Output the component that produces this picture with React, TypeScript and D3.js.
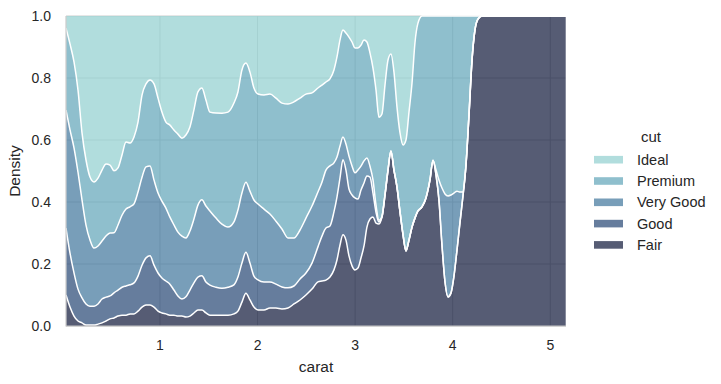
import React from "react";
import * as d3 from "d3";

// Grid of carat values (common KDE grid)
const carat = [
  0.037, 0.078, 0.119, 0.16, 0.201, 0.242, 0.283, 0.324, 0.365, 0.406, 0.447, 0.488, 0.529, 0.57, 0.611, 0.652,
  0.693, 0.734, 0.775, 0.816, 0.857, 0.898, 0.939, 0.98, 1.02, 1.061, 1.102, 1.143, 1.184, 1.225, 1.266, 1.307,
  1.348, 1.389, 1.43, 1.471, 1.512, 1.574, 1.635, 1.697, 1.758, 1.799, 1.84, 1.881, 1.922, 1.963, 2.004, 2.066,
  2.127, 2.189, 2.25, 2.312, 2.373, 2.435, 2.496, 2.558, 2.619, 2.66, 2.701, 2.742, 2.783, 2.814, 2.845, 2.875,
  2.906, 2.937, 2.968, 2.998, 3.029, 3.06, 3.091, 3.121, 3.152, 3.183, 3.214, 3.244, 3.275, 3.306, 3.337, 3.367,
  3.398, 3.429, 3.46, 3.491, 3.521, 3.552, 3.583, 3.613, 3.644, 3.685, 3.726, 3.767, 3.798, 3.829, 3.859, 3.89,
  3.921, 3.952, 3.982, 4.013, 4.044, 4.075, 4.105, 4.136, 4.167, 4.198, 4.228, 4.259, 4.3, 4.485, 4.792, 5.161,
];

// Share of each cut at every grid point (multiple="fill")
const fair = [
  0.1, 0.061, 0.032, 0.016, 0.01, 0.003, 0.003, 0.003, 0.006, 0.01, 0.016, 0.023, 0.026, 0.032, 0.035, 0.035,
  0.039, 0.039, 0.048, 0.061, 0.068, 0.068, 0.061, 0.048, 0.042, 0.039, 0.035, 0.035, 0.032, 0.032, 0.029, 0.032,
  0.042, 0.052, 0.052, 0.042, 0.035, 0.035, 0.035, 0.035, 0.039, 0.048, 0.077, 0.106, 0.084, 0.061, 0.052, 0.052,
  0.058, 0.058, 0.055, 0.058, 0.071, 0.084, 0.1, 0.119, 0.142, 0.145, 0.148, 0.158, 0.181, 0.213, 0.261, 0.294,
  0.277, 0.226, 0.194, 0.181, 0.187, 0.219, 0.258, 0.319, 0.345, 0.352, 0.332, 0.329, 0.352, 0.423, 0.503, 0.565,
  0.503, 0.448, 0.368, 0.294, 0.242, 0.277, 0.319, 0.348, 0.371, 0.384, 0.413, 0.471, 0.535, 0.487, 0.406, 0.261,
  0.142, 0.094, 0.106, 0.161, 0.245, 0.335, 0.419, 0.519, 0.681, 0.858, 0.955, 0.99, 1, 1, 1, 1,
];
const good = [
  0.216, 0.174, 0.139, 0.103, 0.081, 0.068, 0.061, 0.061, 0.065, 0.077, 0.077, 0.074, 0.081, 0.084, 0.09, 0.094,
  0.094, 0.1, 0.113, 0.135, 0.152, 0.158, 0.135, 0.123, 0.113, 0.106, 0.1, 0.081, 0.065, 0.055, 0.065, 0.084,
  0.097, 0.106, 0.11, 0.1, 0.097, 0.09, 0.087, 0.09, 0.094, 0.11, 0.126, 0.132, 0.119, 0.1, 0.097, 0.09,
  0.084, 0.077, 0.071, 0.065, 0.058, 0.068, 0.071, 0.084, 0.113, 0.145, 0.168, 0.165, 0.187, 0.203, 0.216, 0.242,
  0.226, 0.216, 0.229, 0.232, 0.223, 0.219, 0.203, 0.165, 0.135, 0.077, 0.035, 0.006, 0, 0, 0, 0,
  0, 0, 0, 0, 0, 0, 0, 0, 0, 0, 0, 0, 0, 0, 0, 0,
  0, 0, 0, 0, 0, 0, 0, 0, 0, 0, 0, 0, 0, 0, 0, 0,
];
const veryGood = [
  0.381, 0.397, 0.403, 0.377, 0.316, 0.255, 0.213, 0.187, 0.187, 0.187, 0.197, 0.203, 0.194, 0.21, 0.232, 0.248,
  0.252, 0.255, 0.271, 0.284, 0.294, 0.29, 0.274, 0.258, 0.248, 0.235, 0.216, 0.21, 0.206, 0.203, 0.19, 0.19,
  0.206, 0.232, 0.245, 0.245, 0.239, 0.223, 0.206, 0.194, 0.203, 0.216, 0.226, 0.226, 0.232, 0.245, 0.245, 0.235,
  0.219, 0.203, 0.187, 0.161, 0.155, 0.158, 0.177, 0.184, 0.177, 0.174, 0.187, 0.194, 0.158, 0.129, 0.103, 0.074,
  0.084, 0.106, 0.094, 0.081, 0.094, 0.077, 0.071, 0.058, 0.035, 0.042, 0.023, 0.006, 0, 0, 0, 0,
  0, 0, 0, 0, 0, 0, 0, 0, 0, 0, 0, 0, 0, 0.016, 0.065, 0.184,
  0.284, 0.326, 0.316, 0.268, 0.19, 0.097, 0.013, 0, 0, 0, 0, 0, 0, 0, 0, 0,
];
const premium = [
  0.265, 0.277, 0.277, 0.265, 0.216, 0.21, 0.203, 0.213, 0.219, 0.229, 0.232, 0.219, 0.2, 0.184, 0.194, 0.216,
  0.206, 0.216, 0.226, 0.265, 0.268, 0.277, 0.31, 0.306, 0.287, 0.277, 0.297, 0.306, 0.316, 0.316, 0.332, 0.335,
  0.352, 0.365, 0.361, 0.342, 0.319, 0.339, 0.358, 0.371, 0.384, 0.381, 0.397, 0.384, 0.384, 0.361, 0.355, 0.368,
  0.387, 0.397, 0.406, 0.432, 0.439, 0.426, 0.4, 0.365, 0.335, 0.313, 0.284, 0.281, 0.3, 0.323, 0.342, 0.345,
  0.358, 0.384, 0.4, 0.403, 0.394, 0.39, 0.39, 0.374, 0.365, 0.361, 0.371, 0.332, 0.332, 0.355, 0.355, 0.313,
  0.316, 0.258, 0.255, 0.29, 0.358, 0.413, 0.465, 0.565, 0.606, 0.616, 0.587, 0.529, 0.465, 0.497, 0.529, 0.555,
  0.574, 0.581, 0.577, 0.571, 0.565, 0.568, 0.568, 0.481, 0.319, 0.142, 0.045, 0.01, 0, 0, 0, 0,
];
const ideal = [
  0.039, 0.09, 0.148, 0.239, 0.377, 0.465, 0.519, 0.535, 0.523, 0.497, 0.477, 0.481, 0.5, 0.49, 0.448, 0.406,
  0.41, 0.39, 0.342, 0.255, 0.219, 0.206, 0.219, 0.265, 0.31, 0.342, 0.352, 0.368, 0.381, 0.394, 0.384, 0.358,
  0.303, 0.245, 0.232, 0.271, 0.31, 0.313, 0.313, 0.31, 0.281, 0.245, 0.174, 0.152, 0.181, 0.232, 0.252, 0.255,
  0.252, 0.265, 0.281, 0.284, 0.277, 0.265, 0.252, 0.248, 0.232, 0.223, 0.213, 0.203, 0.174, 0.132, 0.077, 0.045,
  0.055, 0.068, 0.084, 0.103, 0.103, 0.094, 0.077, 0.084, 0.119, 0.168, 0.239, 0.326, 0.316, 0.223, 0.142, 0.123,
  0.181, 0.294, 0.377, 0.416, 0.4, 0.31, 0.216, 0.087, 0.023, 0, 0, 0, 0, 0, 0, 0,
  0, 0, 0, 0, 0, 0, 0, 0, 0, 0, 0, 0, 0, 0, 0, 0,
];

const cuts = ["Ideal", "Premium", "Very Good", "Good", "Fair"];
const cutColors = ["#97d1d1", "#6aaabc", "#4b7ea2", "#33517c", "#1d2545"];
const xTicks = [1, 2, 3, 4, 5];
const yTicks = [0, 0.2, 0.4, 0.6, 0.8, 1.0];

const FONT = "'Liberation Sans', Arial, Helvetica, sans-serif";

export default function App() {
  const W = 721;
  const H = 384;
  const left = 66, right = 566, top = 16, bottom = 326;

  const x = d3.scaleLinear().domain([carat[0], carat[carat.length - 1]]).range([left, right]);
  const y = d3.scaleLinear().domain([0, 1]).range([bottom, top]);

  const seriesArrays: Record<string, number[]> = {
    Ideal: ideal,
    Premium: premium,
    "Very Good": veryGood,
    Good: good,
    Fair: fair,
  };
  const rows = carat.map((c, i) => {
    const r: any = { carat: c };
    cuts.forEach((k) => (r[k] = seriesArrays[k][i]));
    return r;
  });
  const stackKeys = ["Fair", "Good", "Very Good", "Premium", "Ideal"];
  const stacked = d3.stack<any>().keys(stackKeys).offset(d3.stackOffsetExpand)(rows);

  const area = d3
    .area<any>()
    .x((d) => x(d.data.carat))
    .y0((d) => y(d[0]))
    .y1((d) => y(d[1]))
    .curve(d3.curveMonotoneX);
  const line = d3
    .line<any>()
    .x((d) => x(d.data.carat))
    .y((d) => y(d[1]))
    .curve(d3.curveMonotoneX);

  const colorOf = (k: string) => cutColors[cuts.indexOf(k)];

  return (
    <svg
      width={W}
      height={H}
      style={{ position: "absolute", left: 0, top: 0, background: "#fff" }}
      fontFamily={FONT}
    >
      <rect x={0} y={0} width={W} height={H} fill="#fff" />
      {/* grid */}
      {yTicks.map((t) => (
        <line key={"gy" + t} x1={left} x2={right} y1={y(t)} y2={y(t)} stroke="#cccccc" strokeWidth={1} />
      ))}
      {xTicks.map((t) => (
        <line key={"gx" + t} x1={x(t)} x2={x(t)} y1={top} y2={bottom} stroke="#cccccc" strokeWidth={1} />
      ))}
      {/* areas */}
      {stacked.map((s) => (
        <path key={"a" + s.key} d={area(s) || ""} fill={colorOf(s.key)} fillOpacity={0.75} stroke="none" />
      ))}
      {/* white edges */}
      {stacked.slice(0, 4).map((s) => (
        <path key={"l" + s.key} d={line(s) || ""} fill="none" stroke="#fff" strokeWidth={1.5} />
      ))}
      <line x1={right} x2={right} y1={top} y2={bottom} stroke="#fff" strokeWidth={1} strokeOpacity={0.6} />
      {/* spines */}
      <line x1={left} x2={left} y1={top} y2={bottom + 0.6} stroke="#cccccc" strokeWidth={1.25} />
      <line x1={left} x2={right} y1={bottom} y2={bottom} stroke="#cccccc" strokeWidth={1.25} />
      {/* tick labels */}
      {yTicks.map((t) => (
        <text key={"ty" + t} x={51} y={y(t) + 5} textAnchor="end" fontSize={14} fill="#262626">
          {t.toFixed(1)}
        </text>
      ))}
      {xTicks.map((t) => (
        <text key={"tx" + t} x={x(t)} y={350} textAnchor="middle" fontSize={14} fill="#262626">
          {t}
        </text>
      ))}
      {/* axis labels */}
      <text x={(left + right) / 2} y={372} textAnchor="middle" fontSize={15.5} fill="#262626">
        carat
      </text>
      <text
        transform={`translate(20,${(top + bottom) / 2}) rotate(-90)`}
        textAnchor="middle"
        fontSize={15.5}
        fill="#262626"
      >
        Density
      </text>
      {/* legend */}
      <text x={651} y={142} textAnchor="middle" fontSize={15} fill="#262626">
        cut
      </text>
      {cuts.map((c, i) => {
        const cy = 159.7 + i * 21.3;
        return (
          <g key={"lg" + c}>
            <rect x={594} y={cy - 3.8} width={29} height={7.6} fill={cutColors[i]} fillOpacity={0.75} />
            <text x={637} y={cy + 5} fontSize={14.5} fill="#262626">
              {c}
            </text>
          </g>
        );
      })}
    </svg>
  );
}
